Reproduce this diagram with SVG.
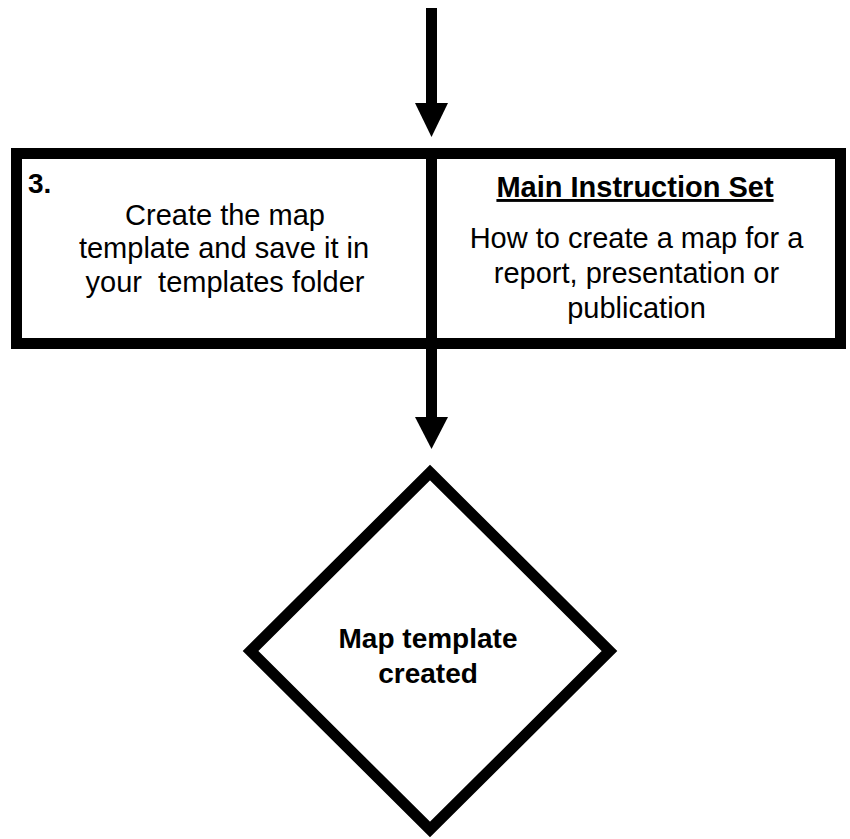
<svg xmlns="http://www.w3.org/2000/svg" width="850" height="839" viewBox="0 0 850 839">
<style>
.t{font-family:"Liberation Sans",Arial,sans-serif;fill:#000;}
.r{font-size:29px;}
.b{font-size:28px;font-weight:bold;}
.line{stroke:#000;stroke-width:11;fill:none;}
.head{fill:#000;}
</style>
<rect width="850" height="839" fill="#fff"/>
<g id="connectors">
<line class="line" x1="431.5" y1="8" x2="431.5" y2="104"/>
<polygon class="head" points="415,103 448,103 431.5,137"/>
<line class="line" x1="431.5" y1="340" x2="431.5" y2="418"/>
<polygon class="head" points="415,417 448,417 431.5,449"/>
</g>
<g id="step3">
<rect x="16.5" y="153.5" width="824" height="190" fill="#fff" stroke="#000" stroke-width="11"/>
<line class="line" x1="431.5" y1="153" x2="431.5" y2="344"/>
<text class="t b" x="28" y="193">3.</text>
<text class="t r" x="225" y="225" text-anchor="middle">Create the map</text>
<text class="t r" x="224" y="258" text-anchor="middle">template and save it in</text>
<text class="t r" x="225" y="291.5" text-anchor="middle" style="white-space:pre">your  templates folder</text>
<text class="t b" x="635" y="197" text-anchor="middle" text-decoration="underline" style="font-size:29px">Main Instruction Set</text>
<text class="t r" x="636.5" y="248" text-anchor="middle">How to create a map for a</text>
<text class="t r" x="636.5" y="283" text-anchor="middle">report, presentation or</text>
<text class="t r" x="636.5" y="318" text-anchor="middle">publication</text>
</g>
<g id="decision">
<polygon points="430,472.5 609.5,651 430,829.5 250.5,651" fill="#fff" stroke="#000" stroke-width="11"/>
<text class="t b" x="428" y="648" text-anchor="middle">Map template</text>
<text class="t b" x="428" y="683" text-anchor="middle">created</text>
</g>
</svg>
